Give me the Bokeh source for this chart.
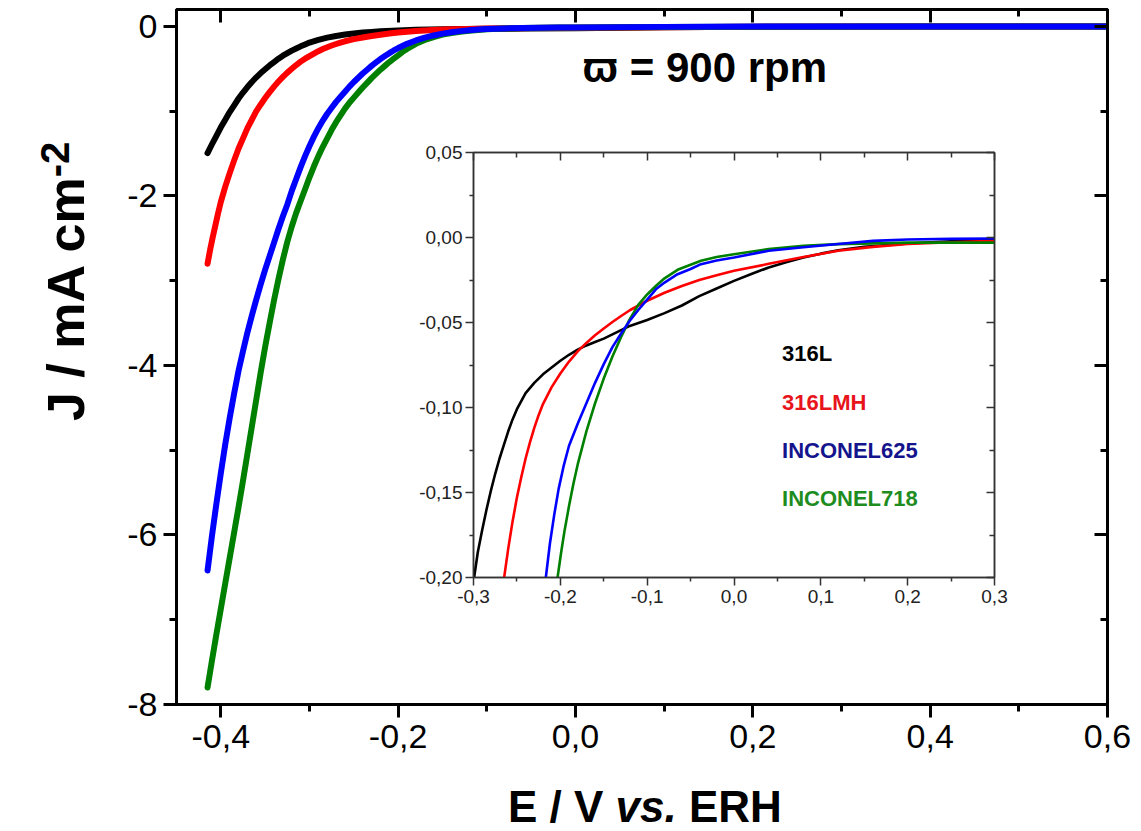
from bokeh.plotting import figure
from bokeh.models import LinearAxis, FixedTicker, CustomJSTickFormatter, Label, Range1d, Div
from bokeh.layouts import column
from bokeh.embed import file_html
from bokeh.resources import INLINE

FONT = "Liberation Sans"

# ---------------- data ----------------
series_names = ["316L", "316LMH", "INCONEL625", "INCONEL718"]
series_colors = ["#000000", "#ff0000", "#0000ff", "#008000"]
label_colors = ["#000000", "#e8141c", "#14148c", "#1e8c1e"]

# main plot: E (V vs ERH) and J (mA cm-2)
main_316L_x = [-0.415, -0.410, -0.405, -0.400, -0.395, -0.390, -0.385, -0.380, -0.375, -0.370,
               -0.365, -0.360, -0.355, -0.350, -0.345, -0.340, -0.335, -0.330, -0.325, -0.320,
               -0.315, -0.310, -0.305, -0.300, -0.290, -0.280, -0.270, -0.260, -0.250, -0.240,
               -0.230, -0.220, -0.200, -0.180, -0.150, -0.100, -0.050, 0.0, 0.1, 0.2, 0.4, 0.6]
main_316L_y = [-1.495, -1.39, -1.29, -1.19, -1.10, -1.01, -0.93, -0.85, -0.78, -0.715,
               -0.655, -0.60, -0.55, -0.505, -0.46, -0.42, -0.38, -0.345, -0.315, -0.285,
               -0.26, -0.235, -0.212, -0.19, -0.158, -0.132, -0.112, -0.096, -0.083, -0.072,
               -0.064, -0.057, -0.047, -0.040, -0.034, -0.028, -0.024, -0.020, -0.010, -0.005, -0.002, -0.001]

main_316LMH_x = [-0.415, -0.412, -0.409, -0.406, -0.403, -0.400, -0.395, -0.390, -0.385, -0.380,
                 -0.375, -0.370, -0.365, -0.360, -0.355, -0.350, -0.345, -0.340, -0.335, -0.330,
                 -0.325, -0.320, -0.315, -0.310, -0.305, -0.300, -0.295, -0.290, -0.285, -0.280,
                 -0.275, -0.270, -0.265, -0.260, -0.250, -0.240, -0.230, -0.220, -0.210, -0.200,
                 -0.190, -0.180, -0.170, -0.160, -0.140, -0.120, -0.100, -0.050, 0.0, 0.1, 0.2, 0.4, 0.6]
main_316LMH_y = [-2.80, -2.63, -2.48, -2.34, -2.20, -2.07, -1.89, -1.73, -1.58, -1.44,
                 -1.32, -1.20, -1.10, -1.00, -0.92, -0.845, -0.775, -0.71, -0.65, -0.595,
                 -0.545, -0.50, -0.455, -0.415, -0.38, -0.35, -0.32, -0.292, -0.267, -0.245,
                 -0.225, -0.207, -0.19, -0.175, -0.15, -0.13, -0.112, -0.097, -0.084, -0.072,
                 -0.062, -0.054, -0.047, -0.041, -0.034, -0.029, -0.025, -0.019, -0.015, -0.008, -0.004, -0.002, -0.001]

main_IN625_x = [-0.415, -0.410, -0.405, -0.400, -0.395, -0.390, -0.385, -0.380, -0.375, -0.370,
                -0.365, -0.360, -0.355, -0.350, -0.345, -0.340, -0.335, -0.330, -0.325, -0.320,
                -0.315, -0.310, -0.305, -0.300, -0.295, -0.290, -0.285, -0.280, -0.275, -0.270,
                -0.265, -0.260, -0.255, -0.250, -0.245, -0.240, -0.235, -0.230, -0.225, -0.220,
                -0.215, -0.210, -0.205, -0.200, -0.190, -0.180, -0.170, -0.160, -0.150, -0.140,
                -0.130, -0.120, -0.110, -0.100, -0.080, -0.060, -0.040, -0.020, 0.0, 0.1, 0.2, 0.4, 0.6]
main_IN625_y = [-6.42, -6.01, -5.63, -5.27, -4.93, -4.62, -4.33, -4.06, -3.83, -3.61,
                -3.41, -3.22, -3.04, -2.87, -2.71, -2.55, -2.39, -2.24, -2.10, -1.94,
                -1.80, -1.66, -1.53, -1.41, -1.30, -1.20, -1.11, -1.03, -0.96, -0.89,
                -0.83, -0.77, -0.71, -0.655, -0.605, -0.555, -0.51, -0.465, -0.425, -0.385,
                -0.35, -0.315, -0.283, -0.255, -0.205, -0.165, -0.132, -0.106, -0.085, -0.068,
                -0.055, -0.045, -0.037, -0.031, -0.023, -0.018, -0.015, -0.013, -0.012, -0.005, -0.002, -0.001, 0.0]

main_IN718_x = [-0.415, -0.410, -0.405, -0.400, -0.395, -0.390, -0.385, -0.380, -0.375, -0.370,
                -0.365, -0.360, -0.355, -0.350, -0.345, -0.340, -0.335, -0.330, -0.325, -0.320,
                -0.315, -0.310, -0.305, -0.300, -0.295, -0.290, -0.285, -0.280, -0.275, -0.270,
                -0.265, -0.260, -0.255, -0.250, -0.245, -0.240, -0.235, -0.230, -0.225, -0.220,
                -0.215, -0.210, -0.205, -0.200, -0.195, -0.190, -0.180, -0.170, -0.160, -0.150,
                -0.140, -0.130, -0.120, -0.110, -0.100, -0.080, -0.060, -0.040, -0.020, 0.0, 0.1, 0.2, 0.4, 0.6]
main_IN718_y = [-7.80, -7.48, -7.17, -6.87, -6.57, -6.27, -5.97, -5.67, -5.36, -5.04,
                -4.72, -4.40, -4.08, -3.78, -3.50, -3.23, -2.98, -2.75, -2.54, -2.36,
                -2.20, -2.06, -1.92, -1.78, -1.65, -1.53, -1.42, -1.32, -1.22, -1.13,
                -1.05, -0.97, -0.90, -0.84, -0.78, -0.72, -0.665, -0.61, -0.56, -0.51,
                -0.465, -0.42, -0.38, -0.34, -0.30, -0.265, -0.205, -0.16, -0.125, -0.097,
                -0.077, -0.062, -0.050, -0.041, -0.034, -0.025, -0.019, -0.015, -0.013, -0.012, -0.006, -0.003, -0.001, 0.0]

# inset (zoom near the onset)
ins_316L_x = [-0.2993, -0.295, -0.290, -0.285, -0.280, -0.275, -0.270, -0.265, -0.260, -0.255,
              -0.250, -0.240, -0.230, -0.220, -0.210, -0.200, -0.190, -0.180, -0.170, -0.160,
              -0.150, -0.140, -0.120, -0.100, -0.080, -0.060, -0.040, -0.020, 0.0, 0.02,
              0.04, 0.06, 0.08, 0.10, 0.12, 0.15, 0.20, 0.25, 0.30]
ins_316L_y = [-0.200, -0.185, -0.172, -0.160, -0.149, -0.139, -0.130, -0.122, -0.114, -0.107,
              -0.101, -0.0915, -0.0855, -0.0805, -0.0765, -0.0725, -0.0690, -0.0660, -0.0635, -0.0615,
              -0.0595, -0.0570, -0.0520, -0.0485, -0.0445, -0.0400, -0.0345, -0.0300, -0.0255, -0.0215,
              -0.0176, -0.0145, -0.0118, -0.0095, -0.0075, -0.0055, -0.0035, -0.0022, -0.0012]

ins_316LMH_x = [-0.2647, -0.260, -0.255, -0.250, -0.245, -0.240, -0.235, -0.230, -0.225, -0.220,
                -0.210, -0.200, -0.190, -0.180, -0.170, -0.160, -0.150, -0.140, -0.130, -0.120,
                -0.100, -0.080, -0.060, -0.040, -0.020, 0.0, 0.04, 0.08, 0.12, 0.16, 0.20, 0.25, 0.30]
ins_316LMH_y = [-0.200, -0.183, -0.167, -0.153, -0.141, -0.130, -0.1205, -0.112, -0.1045, -0.098,
                -0.0880, -0.0800, -0.0730, -0.0670, -0.0620, -0.0575, -0.0535, -0.0497, -0.0462, -0.0428,
                -0.0372, -0.0325, -0.0285, -0.0250, -0.0222, -0.0196, -0.0155, -0.0115, -0.0078, -0.0055,
                -0.0038, -0.0028, -0.0020]

ins_IN625_x = [-0.2167, -0.212, -0.207, -0.202, -0.196, -0.190, -0.180, -0.170, -0.160, -0.150,
               -0.140, -0.130, -0.120, -0.110, -0.100, -0.090, -0.080, -0.065, -0.050, -0.038,
               -0.020, 0.0, 0.04, 0.08, 0.12, 0.16, 0.20, 0.25, 0.30]
ins_IN625_y = [-0.200, -0.180, -0.163, -0.148, -0.134, -0.1225, -0.1095, -0.0975, -0.0855, -0.0745,
               -0.0645, -0.0565, -0.0490, -0.0425, -0.0365, -0.0305, -0.0265, -0.0216, -0.0185, -0.0157,
               -0.0135, -0.0118, -0.0078, -0.0057, -0.0038, -0.0020, -0.0012, -0.0008, -0.0006]

ins_IN718_x = [-0.2032, -0.199, -0.195, -0.190, -0.185, -0.180, -0.170, -0.160, -0.150, -0.140,
               -0.130, -0.120, -0.110, -0.100, -0.090, -0.080, -0.065, -0.050, -0.038, -0.020,
               0.0, 0.04, 0.08, 0.12, 0.20, 0.30]
ins_IN718_y = [-0.200, -0.185, -0.172, -0.158, -0.145, -0.1335, -0.1140, -0.0975, -0.0830, -0.0700,
               -0.0585, -0.0480, -0.0395, -0.0335, -0.0285, -0.0240, -0.0190, -0.0160, -0.0137, -0.0115,
               -0.0098, -0.0068, -0.0049, -0.0039, -0.0030, -0.0030]

main_x_ticks = [-0.4, -0.2, 0.0, 0.2, 0.4, 0.6]
main_x_minor = [-0.3, -0.1, 0.1, 0.3, 0.5]
main_y_ticks = [-8, -6, -4, -2, 0]
main_y_minor = [-7, -5, -3, -1]
ins_x_ticks = [-0.3, -0.2, -0.1, 0.0, 0.1, 0.2, 0.3]
ins_x_minor = [-0.25, -0.15, -0.05, 0.05, 0.15, 0.25]
ins_y_ticks = [-0.20, -0.15, -0.10, -0.05, 0.00, 0.05]
ins_y_minor = [-0.175, -0.125, -0.075, -0.025, 0.025]

main_series = [(main_316L_x, main_316L_y), (main_316LMH_x, main_316LMH_y),
               (main_IN625_x, main_IN625_y), (main_IN718_x, main_IN718_y)]
ins_series = [(ins_316L_x, ins_316L_y), (ins_316LMH_x, ins_316LMH_y),
              (ins_IN625_x, ins_IN625_y), (ins_IN718_x, ins_IN718_y)]
draw_order = [0, 1, 3, 2]

# ---------------- helpers ----------------
def comma_fmt(digits):
    return CustomJSTickFormatter(code=f"""
        var v = Math.abs(tick) < 1e-9 ? 0 : tick;
        return v.toFixed({digits}).replace('.', ',');
    """)


def style_axis(ax, ticks, minor, fmt, major_in, major_out, minor_in, minor_out,
               width, color, font_size, standoff, show_labels=True):
    ax.ticker = FixedTicker(ticks=ticks, minor_ticks=minor)
    ax.formatter = fmt
    ax.axis_line_width = width
    ax.axis_line_color = color
    ax.major_tick_line_width = width
    ax.minor_tick_line_width = width
    ax.major_tick_line_color = color
    ax.minor_tick_line_color = color
    ax.major_tick_in = major_in
    ax.major_tick_out = major_out
    ax.minor_tick_in = minor_in
    ax.minor_tick_out = minor_out
    if show_labels:
        ax.major_label_text_font = FONT
        ax.major_label_text_font_size = font_size
        ax.major_label_text_color = "black" if color == "black" else "#222222"
        ax.major_label_standoff = standoff
    else:
        ax.major_label_text_font_size = "0px"
        ax.major_label_standoff = 0
        ax.major_label_text_alpha = 0


# ---------------- main figure ----------------
ML, MR, MT, MB = 176, 34, 9, 127
p = figure(width=1141, height=831, x_range=Range1d(-0.45, 0.6), y_range=Range1d(-8.0, 0.2),
           output_backend="svg", toolbar_location=None,
           min_border_left=ML, min_border_right=MR, min_border_top=MT, min_border_bottom=MB)
p.xgrid.visible = False
p.ygrid.visible = False
p.outline_line_color = "black"
p.outline_line_width = 3
p.background_fill_color = "white"
p.border_fill_color = "white"

style_axis(p.xaxis[0], main_x_ticks, main_x_minor, comma_fmt(1), 0, 13, 0, 7, 3, "black", "34px", 7)
style_axis(p.yaxis[0], main_y_ticks, main_y_minor, comma_fmt(0), 0, 13, 0, 7, 3, "black", "34px", 6)

top_ax = LinearAxis()
style_axis(top_ax, main_x_ticks, main_x_minor, comma_fmt(1), 13, 0, 7, 0, 3, "black", "0px", 0, False)
p.add_layout(top_ax, "above")
right_ax = LinearAxis()
style_axis(right_ax, main_y_ticks, main_y_minor, comma_fmt(0), 13, 0, 7, 0, 3, "black", "0px", 0, False)
p.add_layout(right_ax, "right")

for i in draw_order:
    xs, ys = main_series[i]
    p.line(xs, ys, line_width=6, line_color=series_colors[i], line_cap="round", line_join="round")

p.add_layout(Label(x=0.008, y=-0.48, text="\u03d6 = 900 rpm", text_align="left", text_baseline="middle",
                   text_font=FONT, text_font_style="bold", text_font_size="42px", text_color="black"))

# ---------------- inset figure (overlaid) ----------------
# borders equal to the main plot's, because a column aligns the left/right borders of its plots
IFW, IFH = 521, 425
IT, IB = 24, 40
ins = figure(width=ML + IFW + MR, height=IT + IFH + IB, x_range=Range1d(-0.3, 0.3), y_range=Range1d(-0.2, 0.05),
             output_backend="svg", toolbar_location=None,
             min_border_left=ML, min_border_right=MR, min_border_top=IT, min_border_bottom=IB)
ins.xgrid.visible = False
ins.ygrid.visible = False
ins.background_fill_color = "white"
ins.border_fill_color = None
ins.outline_line_color = "#333333"
ins.outline_line_width = 1.5
ins.styles = {"position": "absolute", "left": f"{473 - ML}px", "top": f"{152 - IT}px"}

AX = "#333333"
style_axis(ins.xaxis[0], ins_x_ticks, ins_x_minor, comma_fmt(1), 0, 8, 0, 4, 1.5, AX, "19px", 4)
style_axis(ins.yaxis[0], ins_y_ticks, ins_y_minor, comma_fmt(2), 0, 8, 0, 4, 1.5, AX, "19px", 3)
itop = LinearAxis()
style_axis(itop, ins_x_ticks, ins_x_minor, comma_fmt(1), 8, 0, 5, 0, 1.5, AX, "0px", 0, False)
ins.add_layout(itop, "above")
iright = LinearAxis()
style_axis(iright, ins_y_ticks, ins_y_minor, comma_fmt(2), 8, 0, 5, 0, 1.5, AX, "0px", 0, False)
ins.add_layout(iright, "right")

for i in draw_order:
    xs, ys = ins_series[i]
    ins.line(xs, ys, line_width=2.6, line_color=series_colors[i], line_join="round")

label_y = [-0.0684, -0.0972, -0.1255, -0.1537]
for name, col, ly in zip(series_names, label_colors, label_y):
    ins.add_layout(Label(x=0.0553, y=ly, text=name, text_align="left", text_baseline="middle",
                         text_font=FONT, text_font_style="bold", text_font_size="22px", text_color=col))

# ---------------- axis titles (HTML text, absolutely placed) ----------------
xt_size = 44
xtitle = Div(text='E / V <i>vs.</i> ERH',
             styles={"position": "absolute", "left": "503px", "top": "780px",
                     "font-family": FONT, "font-weight": "bold", "font-size": f"{xt_size}px",
                     "line-height": "1", "white-space": "nowrap", "color": "black"})
yt_size = 52
ytitle = Div(text='J / mA cm<span style="font-size:40px;position:relative;top:-15px;">-2</span>',
             styles={"position": "absolute", "left": f"{79 - round(0.8465 * yt_size)}px", "top": "416px",
                     "transform": "rotate(-90deg)", "transform-origin": "0 0",
                     "font-family": FONT, "font-weight": "bold", "font-size": f"{yt_size}px",
                     "line-height": "1", "white-space": "nowrap", "color": "black"})

root = column(p, ins, xtitle, ytitle)
open("out.html", "w").write(file_html(root, INLINE))
